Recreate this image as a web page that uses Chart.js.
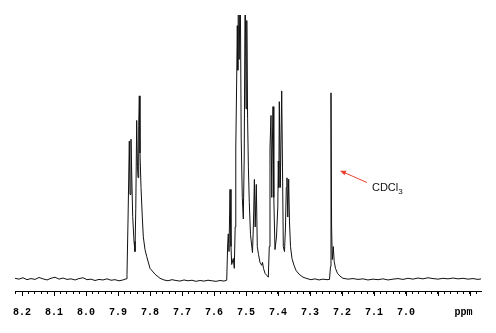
<!DOCTYPE html>
<html>

<head>
    <title>1H NMR spectrum</title>
    <style type="text/css">
        body {
            margin: 0;
            background: #ffffff;
        }

        #spectrum {
            display: block;
        }
    </style>
</head>

<body>
    <canvas id="spectrum" width="496" height="333"></canvas>
    <script src="https://cdn.jsdelivr.net/npm/chart.js@4.4.1/dist/chart.umd.min.js"></script>
    <script>
        // chemical shift (ppm) and intensity
        var ppm = [
            8.2219, 8.2094, 8.1969, 8.1844, 8.1719, 8.1594, 8.1469, 8.1344, 8.1219, 8.1094,
            8.0969, 8.0844, 8.0719, 8.0594, 8.0469, 8.0344, 8.0219, 8.0094, 7.9969, 7.9844,
            7.9719, 7.9594, 7.9469, 7.9344, 7.9219, 7.9094, 7.8969, 7.8844,
            // 7.86 / 7.83 multiplet
            7.8750, 7.8719, 7.8688, 7.8647, 7.8625, 7.8594, 7.8563, 7.8541, 7.8500, 7.8469,
            7.8444, 7.8416, 7.8391, 7.8375, 7.8353, 7.8334, 7.8313, 7.8281, 7.8241, 7.8209,
            7.8156, 7.8103, 7.8000, 7.7844, 7.7688,
            7.7563, 7.7438, 7.7313, 7.7188, 7.7063, 7.6938, 7.6813, 7.6688, 7.6563, 7.6438,
            7.6313, 7.6188, 7.6063, 7.5938, 7.5813, 7.5688,
            // 7.55 - 7.45 cluster
            7.5603, 7.5572, 7.5553, 7.5531, 7.5500, 7.5469, 7.5447, 7.5397, 7.5366, 7.5338,
            7.5319, 7.5291, 7.5272, 7.5256, 7.5234, 7.5213, 7.5181, 7.5150, 7.5116, 7.5084,
            7.5056, 7.5025, 7.5000, 7.4975, 7.4950, 7.4925, 7.4897, 7.4859, 7.4797, 7.4766,
            7.4738, 7.4713, 7.4678, 7.4647, 7.4609, 7.4563, 7.4509, 7.4484, 7.4453, 7.4406,
            7.4353, 7.4303,
            // 7.42 - 7.36 cluster
            7.4272, 7.4250, 7.4219, 7.4194, 7.4178, 7.4156, 7.4131, 7.4094, 7.4047, 7.4006,
            7.3991, 7.3975, 7.3959, 7.3928, 7.3884, 7.3859, 7.3834, 7.3797, 7.3766, 7.3741,
            7.3719, 7.3694, 7.3666, 7.3641, 7.3609, 7.3563, 7.3500, 7.3438, 7.3344, 7.3219,
            7.3094, 7.2969, 7.2844, 7.2719, 7.2594, 7.2469, 7.2391,
            // CDCl3
            7.2359, 7.2344, 7.2325, 7.2303, 7.2272, 7.2244, 7.2203, 7.2141, 7.2063, 7.1969,
            7.1813, 7.1656, 7.1500, 7.1344, 7.1188, 7.1031, 7.0875, 7.0719, 7.0563, 7.0406,
            7.0250, 7.0094, 6.9938, 6.9781, 6.9625, 6.9469, 6.9313, 6.9156, 6.9000, 6.8844,
            6.8688, 6.8531, 6.8375, 6.8219, 6.8063, 6.7906, 6.7750, 6.7656
        ];

        var intensity = [
            4.6, 4.3, 4.8, 4.1, 4.5, 4.2, 4.9, 4.4, 4.0, 4.6,
            5.0, 4.3, 4.7, 4.2, 4.4, 4.0, 4.5, 4.8, 4.1, 4.3,
            3.8, 4.2, 4.0, 4.4, 3.9, 4.1, 3.7, 4.0,
            4.4, 6.0, 25, 54.3, 35, 55.0, 38, 27, 18, 14.3,
            30, 61.8, 45, 41.1, 60, 70.7, 50, 37.5, 26.8, 19.6,
            15, 12.5, 8.2, 6.1, 4.6,
            4.0, 3.7, 4.1, 3.8, 3.6, 4.0, 3.7, 3.9, 3.5, 3.8,
            3.6, 3.9, 3.7, 3.5, 3.8, 3.6,
            3.9, 17.1, 20.7, 14.3, 36.8, 16.1, 9.6, 11.8, 8.2, 23.2,
            51.8, 76.8, 96.1, 80, 115, 83.9, 115, 55.4, 33.9, 26.1,
            48.2, 115, 66, 98, 62.5, 44.6, 32.1, 20.4, 13.9, 25,
            40.4, 23.2, 38.6, 16.1, 13.2, 10.4, 9.3, 10.4, 8.2, 6.4,
            5.7, 5.0,
            16.1, 51.8, 63.6, 33.9, 51.8, 66.8, 33.9, 15.0, 19.6, 30.4,
            47.1, 37.5, 68.6, 37.5, 72.5, 44.6, 16.1, 14.3, 23.2, 37.5,
            41.0, 26.8, 40.5, 25.0, 16.1, 11.8, 9.3, 7.5, 6.1, 5.0,
            4.5, 4.1, 4.4, 4.0, 4.3, 4.1, 4.2,
            8.9, 71.8, 23.2, 11.4, 16.1, 10.7, 8.2, 6.4, 5.4, 4.6,
            4.3, 4.5, 4.2, 4.4, 4.0, 4.3, 4.1, 4.4, 4.0, 4.3,
            4.5, 4.2, 4.6, 4.3, 4.7, 4.4, 4.8, 4.5, 4.3, 4.6,
            4.4, 4.7, 4.4, 4.6, 4.3, 4.5, 4.2, 4.4
        ];

        // axis range and labelled ticks
        var axisMin = 6.7656;
        var axisMax = 8.2219;
        var majorLabels = ['8.2', '8.1', '8.0', '7.9', '7.8', '7.7', '7.6', '7.5', '7.4', '7.3', '7.2', '7.1', '7.0'];
        var unitLabel = 'ppm';
        var unitTick = 6.82;

        // solvent label
        var solventText = 'CDCl';
        var solventSub = '3';
        var arrowTail = { x: 7.1219, y: 39.3 };
        var arrowHead = { x: 7.2063, y: 43.6 };
        var solventPos = { x: 7.1063, y: 36.4 };

        var points = ppm.map((p, i) => ({ x: p, y: intensity[i] }));

        // longer marks at every 0.1 ppm
        var majorTicks = {
            id: 'majorTicks',
            afterDraw(chart) {
                var scale = chart.scales.x;
                var ctx = chart.ctx;
                ctx.save();
                ctx.strokeStyle = '#000';
                ctx.lineWidth = 1;
                ctx.beginPath();
                scale.ticks.forEach(t => {
                    var k = Math.round(t.value * 50);
                    if (k % 5 === 0) {
                        var px = Math.round(scale.getPixelForValue(t.value)) + 0.5;
                        ctx.moveTo(px, chart.chartArea.bottom);
                        ctx.lineTo(px, chart.chartArea.bottom + 5);
                    }
                });
                ctx.stroke();
                ctx.restore();
            }
        };

        var solventLabel = {
            id: 'solventLabel',
            afterDraw(chart) {
                var xs = chart.scales.x, ys = chart.scales.y;
                var ctx = chart.ctx;
                var x1 = xs.getPixelForValue(arrowTail.x), y1 = ys.getPixelForValue(arrowTail.y);
                var x2 = xs.getPixelForValue(arrowHead.x), y2 = ys.getPixelForValue(arrowHead.y);
                var ang = Math.atan2(y2 - y1, x2 - x1);
                ctx.save();
                ctx.strokeStyle = '#e8402e';
                ctx.fillStyle = '#e8402e';
                ctx.lineWidth = 1;
                ctx.beginPath();
                ctx.moveTo(x1, y1);
                ctx.lineTo(x2 - 3 * Math.cos(ang), y2 - 3 * Math.sin(ang));
                ctx.stroke();
                ctx.beginPath();
                ctx.moveTo(x2, y2);
                ctx.lineTo(x2 - 6 * Math.cos(ang) + 2.5 * Math.sin(ang), y2 - 6 * Math.sin(ang) - 2.5 * Math.cos(ang));
                ctx.lineTo(x2 - 6 * Math.cos(ang) - 2.5 * Math.sin(ang), y2 - 6 * Math.sin(ang) + 2.5 * Math.cos(ang));
                ctx.closePath();
                ctx.fill();

                var tx = xs.getPixelForValue(solventPos.x), ty = ys.getPixelForValue(solventPos.y);
                ctx.fillStyle = '#111';
                ctx.textBaseline = 'alphabetic';
                ctx.font = '11px "Liberation Sans", Arial, sans-serif';
                ctx.fillText(solventText, tx, ty);
                var w = ctx.measureText(solventText).width;
                ctx.font = '8px "Liberation Sans", Arial, sans-serif';
                ctx.fillText(solventSub, tx + w, ty + 3);
                ctx.restore();
            }
        };

        new Chart(document.getElementById('spectrum'), {
            type: 'line',
            data: {
                datasets: [{
                    data: points,
                    borderColor: '#111',
                    borderWidth: 1,
                    pointRadius: 0,
                    tension: 0,
                    fill: false
                }]
            },
            options: {
                responsive: false,
                animation: false,
                parsing: true,
                layout: {
                    padding: { left: 15, right: 15, top: 15, bottom: 3 }
                },
                plugins: {
                    legend: { display: false },
                    tooltip: { enabled: false },
                    title: { display: false }
                },
                scales: {
                    x: {
                        type: 'linear',
                        reverse: true,
                        min: axisMin,
                        max: axisMax,
                        afterBuildTicks(scale) {
                            var list = [];
                            for (var k = 339; k <= 411; k++) {
                                list.push({ value: k / 50 });
                            }
                            scale.ticks = list;
                        },
                        ticks: {
                            autoSkip: false,
                            maxRotation: 0,
                            padding: 12,
                            color: '#000',
                            font: { family: '"Liberation Mono", "Courier New", monospace', size: 10, weight: 'bold' },
                            callback(value) {
                                var k = Math.round(value * 50);
                                if (Math.abs(value - unitTick) < 0.001) return unitLabel;
                                if (k % 5 === 0) {
                                    var s = (k / 50).toFixed(1);
                                    return majorLabels.indexOf(s) >= 0 ? s : '';
                                }
                                return '';
                            }
                        },
                        grid: {
                            drawOnChartArea: false,
                            tickLength: 3,
                            tickColor: '#000'
                        },
                        border: {
                            display: true,
                            color: '#000',
                            width: 1
                        }
                    },
                    y: {
                        display: false,
                        min: 0,
                        max: 100
                    }
                }
            },
            plugins: [majorTicks, solventLabel]
        });
    </script>
</body>

</html>
